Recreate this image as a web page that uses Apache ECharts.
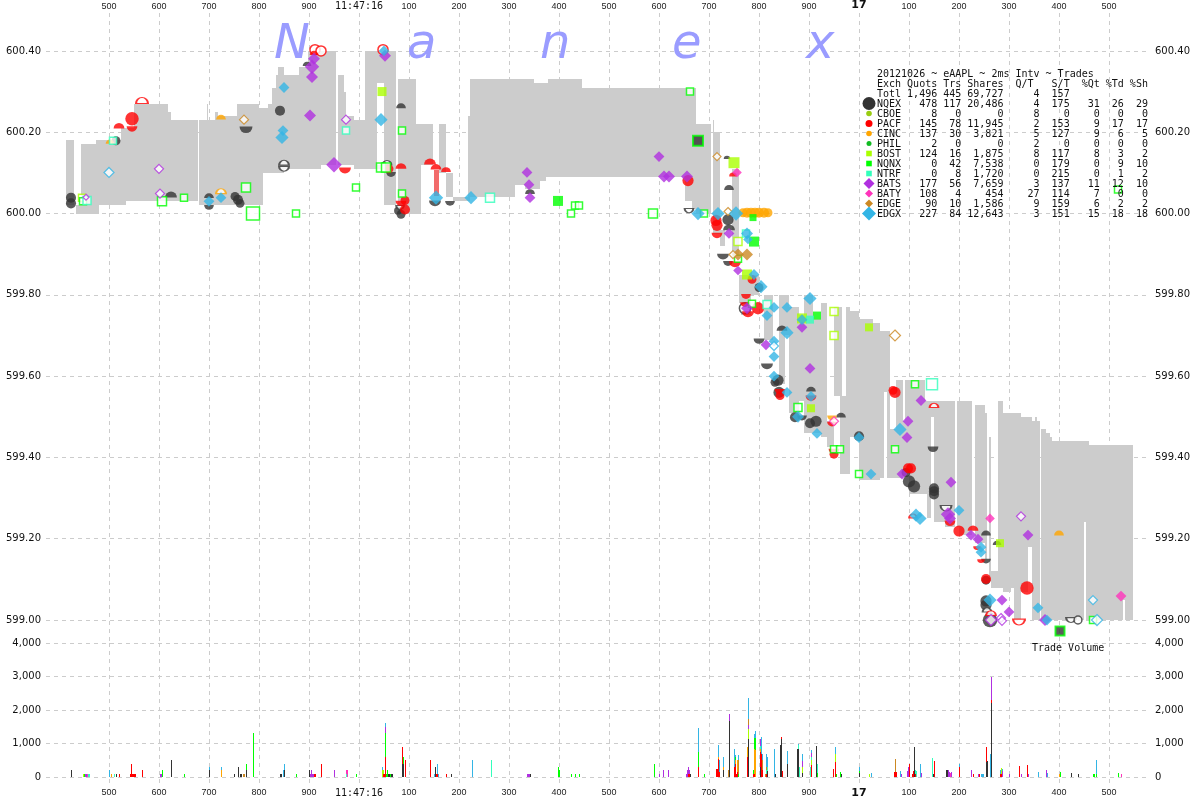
<!DOCTYPE html>
<html><head><meta charset="utf-8">
<script src="https://cdn.jsdelivr.net/npm/echarts@6/dist/echarts.min.js"></script>
<style>html,body{margin:0;padding:0;background:#fff}#c{width:1200px;height:800px}</style>
</head><body><div id="c"></div>
<script>
// time = ms after 11:47:15 ; 1000 -> 11:47:16 ; 2000 -> :17
const timeTicks=[500,600,700,800,900,1000,1100,1200,1300,1400,1500,1600,1700,1800,1900,2000,2100,2200,2300,2400,2500];
const priceTicks=[599.00,599.20,599.40,599.60,599.80,600.00,600.20,600.40];
const volumeTicks=[0,1000,2000,3000,4000];
const titleLetters=['N','a','n','e','x'];

// [start, end, bid, ask]
const spreadBand=[
[414,430,600.02,600.18],[434,444,600.00,600.02],[444,474,600.00,600.17],[474,480,600.00,600.18],[480,524,600.02,600.18],
[524,534,600.02,600.21],[534,550,600.03,600.21],[550,618,600.03,600.27],[618,624,600.03,600.25],[624,678,600.03,600.23],
[680,696,600.02,600.23],[696,698,600.02,600.27],[698,712,600.02,600.23],[712,718,600.02,600.25],[718,756,600.02,600.24],
[756,800,600.02,600.27],[800,808,600.02,600.26],[808,818,600.10,600.26],[818,826,600.10,600.27],[826,834,600.10,600.31],
[834,838,600.10,600.34],[838,850,600.10,600.36],[850,880,600.11,600.34],[880,898,600.11,600.36],[898,924,600.11,600.40],
[924,954,600.12,600.40],[958,970,600.12,600.34],[970,974,600.12,600.30],[974,990,600.12,600.24],[990,1012,600.11,600.23],
[1012,1036,600.11,600.40],[1036,1050,600.32,600.40],[1036,1050,600.11,600.12],[1050,1074,600.02,600.40],[1078,1114,600.00,600.33],
[1114,1124,600.00,600.22],[1124,1148,600.12,600.22],[1160,1174,600.10,600.22],[1174,1188,600.04,600.10],[1188,1218,600.03,600.04],
[1218,1222,600.03,600.24],[1222,1312,600.04,600.33],[1312,1332,600.07,600.33],[1332,1350,600.06,600.33],[1350,1362,600.06,600.32],
[1362,1374,600.08,600.32],[1374,1378,600.09,600.32],[1378,1446,600.09,600.33],[1446,1652,600.09,600.31],[1652,1666,600.03,600.31],
[1666,1674,600.01,600.31],[1674,1704,600.00,600.22],[1708,1722,599.95,600.20],[1708,1710,599.95,600.23],[1722,1732,599.92,599.96],
[1746,1760,599.89,600.11],[1760,1764,599.78,599.85],[1764,1784,599.75,599.85],[1784,1800,599.80,599.85],
[1810,1828,599.69,599.80],[1840,1852,599.58,599.80],[1852,1860,599.70,599.80],[1860,1880,599.51,599.77],[1880,1890,599.54,599.75],
[1890,1908,599.46,599.80],[1908,1924,599.46,599.74],[1924,1936,599.45,599.78],[1936,1950,599.425,599.49],[1950,1962,599.55,599.77],
[1962,1966,599.36,599.77],[1966,1974,599.36,599.55],[1974,1982,599.36,599.77],[1982,2000,599.45,599.76],[2000,2028,599.345,599.74],
[2028,2042,599.345,599.73],[2042,2050,599.35,599.71],[2050,2056,599.56,599.71],[2056,2062,599.35,599.71],[2062,2074,599.35,599.47],
[2074,2088,599.35,599.59],[2088,2092,599.365,599.49],[2092,2100,599.365,599.59],[2100,2132,599.31,599.59],[2132,2136,599.31,599.54],
[2136,2144,599.25,599.54],[2144,2150,599.50,599.54],[2150,2172,599.24,599.54],[2172,2192,599.23,599.54],[2196,2200,599.23,599.54],
[2200,2226,599.21,599.54],[2232,2252,599.19,599.53],[2252,2256,599.15,599.51],[2260,2264,599.10,599.45],[2264,2278,599.08,599.12],
[2278,2288,599.08,599.54],[2288,2304,599.07,599.51],[2304,2310,599.08,599.51],[2310,2324,599.00,599.51],[2324,2338,599.07,599.50],
[2338,2346,599.18,599.50],[2346,2352,599.00,599.49],[2352,2356,599.00,599.50],[2356,2362,599.00,599.49],[2364,2374,599.00,599.47],
[2374,2382,599.00,599.46],[2382,2386,599.00,599.45],[2386,2450,599.00,599.44],[2450,2454,599.24,599.44],[2454,2460,599.00,599.44],
[2460,2528,599.00,599.43],[2528,2532,599.05,599.43],[2532,2548,599.00,599.43]
];
const lockedBar=[[1150,1160,600.044,600.108]];

// marks: [time, price, size, kind]  c circle, u top half, d bottom half, s square, m diamond; capitals are hollow; k dark-filled square
const nqexMarks=[[424,600.039,9,'c'],[424,600.025,9,'c'],[514,600.179,8,'c'],[774,600.206,12,'d'],[624,600.047,11,'u'],[700,600.044,9,'u'],[700,600.015,9,'d'],[752,600.042,8,'c'],[758,600.034,9,'c'],[762,600.025,8,'c'],[842,600.253,9,'c'],[896,600.368,8,'u'],[1084,600.265,9,'u'],[1064,600.096,9,'d'],[1078,600.007,7,'c'],[1084,599.998,8,'c'],[1152,600.025,11,'d'],[1182,600.025,9,'d'],[1342,600.054,9,'u'],[1736,600.138,6,'u'],[1740,600.064,9,'u'],[1738,599.985,10,'c'],[1740,599.966,11,'u'],[1728,599.894,11,'d'],[1738,599.877,9,'d'],[1800,599.818,8,'c'],[1772,599.767,10,'O'],[1800,599.686,10,'d'],[1816,599.624,11,'d'],[1838,599.590,10,'c'],[1832,599.585,8,'c'],[1840,599.560,10,'c'],[1846,599.718,10,'u'],[1904,599.568,9,'u'],[1872,599.499,9,'c'],[1886,599.497,9,'d'],[1902,599.484,9,'c'],[1914,599.489,10,'c'],[1964,599.504,9,'u'],[2000,599.452,9,'c'],[2148,599.420,10,'d'],[2094,599.363,8,'c'],[2100,599.341,11,'c'],[2110,599.329,11,'c'],[2150,599.324,9,'c'],[2150,599.317,9,'c'],[2150,599.309,9,'c'],[2174,599.275,10,'D'],[2254,599.214,9,'u'],[2254,599.145,9,'d'],[2254,599.098,8,'c'],[2254,599.047,10,'c'],[2254,599.037,10,'c'],[2262,599.00,13,'c'],[2276,599.19,8,'u'],[2424,599.00,9,'D'],[2438,599.00,7,'O'],[2256,599.025,8,'U'],[850,600.125,9,'U'],[850,600.11,9,'D'],[1056,600.125,8,'U'],[1082,600.015,7,'D'],[1660,600.007,8,'D']];
const pacfMarks=[[520,600.216,10,'u'],[546,600.233,12,'c'],[546,600.208,10,'d'],[566,600.278,11,'U'],[912,600.403,9,'O'],[924,600.40,9,'O'],[910,600.395,8,'u'],[972,600.106,11,'d'],[1048,600.403,9,'O'],[1060,600.11,8,'c'],[1084,600.117,10,'u'],[1092,600.032,8,'c'],[1084,600.025,10,'d'],[1092,600.01,9,'c'],[1142,600.128,11,'u'],[1154,600.115,10,'u'],[1174,600.108,9,'u'],[1658,600.081,10,'c'],[1714,599.983,10,'c'],[1716,599.971,10,'c'],[1716,599.946,10,'d'],[1748,600.096,7,'u'],[1752,599.875,11,'d'],[1786,599.838,8,'c'],[1774,599.796,9,'d'],[1798,599.767,11,'c'],[1772,599.776,9,'d'],[1778,599.752,11,'d'],[1842,599.562,10,'d'],[1842,599.552,8,'c'],[1904,599.546,10,'d'],[1946,599.482,9,'d'],[1950,599.415,10,'d'],[1950,599.408,8,'c'],[2072,599.56,10,'c'],[2068,599.565,8,'c'],[2104,599.373,9,'c'],[2098,599.373,9,'c'],[2150,599.528,8,'U'],[2108,599.256,7,'U'],[2182,599.238,10,'d'],[2200,599.219,10,'c'],[2228,599.226,10,'u'],[2236,599.177,7,'d'],[2244,599.145,7,'d'],[2254,599.101,9,'c'],[2336,599.079,12,'c'],[2264,599.017,9,'U'],[2320,598.995,11,'D']];
const cincMarks=[[724,600.237,9,'u'],[502,600.177,8,'u'],[724,600.055,9,'U'],[1768,600.002,8,'c'],[1776,600.002,9,'c'],[1784,600.002,9,'c'],[1792,600.002,9,'c'],[1800,600.002,9,'c'],[1810,600.002,9,'c'],[1818,600.002,8,'c'],[1946,599.497,9,'d'],[2400,599.214,9,'u']];
const bostMarks=[[1046,600.30,9,'s'],[1750,600.125,11,'s'],[1758,599.931,8,'S'],[1776,599.85,10,'s'],[1886,599.742,10,'s'],[1950,599.759,8,'S'],[1950,599.70,8,'S'],[2020,599.72,8,'s'],[1904,599.521,8,'s'],[2282,599.189,8,'s'],[446,600.039,7,'S']];
const nqnxMarks=[[448,600.03,7,'S'],[774,600.064,9,'S'],[788,600.00,13,'S'],[606,600.03,9,'S'],[650,600.039,7,'S'],[874,600.00,7,'S'],[994,600.064,7,'S'],[1086,600.204,7,'S'],[1086,600.049,7,'S'],[1044,600.113,9,'S'],[1054,600.113,9,'S'],[1398,600.031,10,'s'],[1424,600.00,7,'S'],[1432,600.02,7,'S'],[1440,600.02,7,'S'],[1588,600.00,9,'S'],[1662,600.30,7,'S'],[1678,600.179,10,'k'],[1690,600.00,7,'S'],[1788,599.99,7,'s'],[1790,599.931,10,'s'],[1758,599.889,7,'S'],[1786,599.778,7,'S'],[1916,599.749,8,'s'],[1878,599.523,8,'S'],[1950,599.42,7,'S'],[1962,599.42,7,'S'],[2000,599.359,7,'S'],[2072,599.42,7,'S'],[2112,599.58,7,'S'],[2468,599.00,7,'S'],[2518,600.059,7,'S'],[2402,598.973,9,'k']];
const ntrfMarks=[[456,600.032,8,'S'],[508,600.179,7,'S'],[974,600.204,7,'S'],[1262,600.039,9,'S'],[1902,599.739,8,'s'],[1816,599.776,8,'S'],[1774,599.951,7,'S'],[2146,599.58,11,'S']];
const batsMarks=[[910,600.381,10,'m'],[906,600.361,12,'m'],[906,600.336,10,'m'],[902,600.241,10,'m'],[950,600.12,13,'m'],[1052,600.388,10,'m'],[600,600.11,9,'M'],[602,600.049,9,'M'],[974,600.231,9,'M'],[454,600.04,6,'M'],[1336,600.101,9,'m'],[1340,600.071,9,'m'],[1342,600.039,9,'m'],[1600,600.14,9,'m'],[1610,600.091,10,'m'],[1620,600.091,10,'m'],[1656,600.091,10,'m'],[1740,599.951,9,'m'],[1758,599.86,8,'m'],[1776,599.767,10,'m'],[1814,599.677,9,'m'],[1886,599.72,9,'m'],[1902,599.619,9,'m'],[2124,599.54,9,'m'],[2098,599.489,9,'m'],[2096,599.449,9,'m'],[2086,599.359,9,'m'],[2178,599.26,12,'m'],[2182,599.25,10,'m'],[2184,599.339,9,'m'],[2224,599.209,9,'m'],[2238,599.199,9,'m'],[2338,599.209,9,'m'],[2286,599.049,9,'m'],[2300,599.02,9,'m'],[2324,599.255,9,'M'],[2284,599.005,9,'M'],[2286,598.998,9,'M'],[2264,599.00,11,'M'],[2372,599.00,10,'m']];
const batyMarks=[[1756,600.101,8,'m'],[1950,599.489,9,'M'],[2262,599.25,8,'m'],[2524,599.059,9,'m']];
const edgeMarks=[[770,600.231,9,'M'],[1716,600.14,8,'M'],[1738,600.005,8,'M'],[1758,599.899,10,'m'],[1776,599.899,10,'m'],[1748,599.899,8,'M'],[2072,599.70,11,'M']];
const edgxMarks=[[500,600.101,10,'M'],[850,600.31,9,'m'],[848,600.204,9,'m'],[846,600.187,11,'m'],[700,600.03,9,'m'],[724,600.039,9,'m'],[1044,600.231,11,'m'],[1050,600.40,9,'m'],[1154,600.039,12,'m'],[1224,600.039,11,'m'],[1678,600.00,11,'m'],[1718,600.00,11,'m'],[1754,600.00,12,'m'],[1776,599.951,10,'m'],[1778,599.936,8,'m'],[1790,599.85,9,'m'],[1804,599.82,11,'m'],[1902,599.791,11,'m'],[1816,599.749,9,'m'],[1830,599.769,9,'m'],[1856,599.769,9,'m'],[1886,599.739,9,'m'],[1856,599.707,11,'m'],[1830,599.686,9,'m'],[1830,599.674,9,'M'],[1830,599.648,9,'m'],[1830,599.60,9,'m'],[1856,599.56,9,'m'],[1904,599.55,9,'m'],[1878,599.50,10,'m'],[1916,599.459,9,'m'],[2000,599.449,9,'m'],[2024,599.359,9,'m'],[2082,599.469,11,'m'],[2114,599.258,11,'m'],[2122,599.25,11,'m'],[2200,599.27,9,'m'],[2476,599.00,11,'M'],[2468,599.049,9,'M'],[2244,599.179,9,'m'],[2244,599.167,9,'m'],[2262,599.049,11,'m'],[2358,599.03,9,'m'],[2376,599.00,9,'m']];

// trade volume per 2 ms bucket: [time, shares]
const nqexVol=[[424,200],[514,100],[624,500],[700,200],[750,100],[758,300],[762,100],[764,100],[774,200],[842,100],[844,100],[850,200],[900,200],[1058,100],[1060,100],[1064,100],[1066,100],[1086,400],[1088,400],[1152,300],[1184,100],[1342,100],[1662,100],[1728,200],[1740,1680],[1778,1120],[1802,300],[1816,180],[1832,100],[1842,950],[1844,1130],[1856,400],[1876,850],[1878,850],[1886,120],[1914,920],[1964,100],[2000,120],[2110,900],[2148,100],[2174,200],[2176,200],[2254,450],[2256,480],[2264,2200],[2424,130],[2438,100]];
const pacfVol=[[520,100],[542,100],[544,400],[546,100],[548,100],[550,100],[552,100],[566,200],[910,100],[912,100],[924,400],[1048,100],[1050,100],[1052,600],[1086,500],[1092,500],[1142,500],[1154,100],[1156,100],[1174,100],[1658,100],[1660,100],[1678,300],[1714,250],[1716,250],[1718,550],[1720,150],[1750,300],[1752,400],[1754,100],[1756,150],[1776,600],[1788,100],[1790,100],[1802,450],[1804,700],[1806,200],[1814,100],[1844,70],[1846,180],[1904,350],[1948,230],[1952,450],[2070,150],[2072,150],[2074,150],[2100,400],[2106,100],[2108,180],[2112,100],[2150,470],[2200,300],[2228,100],[2240,100],[2254,450],[2264,100],[2282,100],[2284,100],[2320,340],[2336,350]];
const cincVol=[[504,100],[724,200],[1718,50],[1728,100],[1752,100],[1756,350],[1776,300],[1790,750],[1792,800],[1802,100],[2400,100]];
const bostVol=[[448,100],[1046,200],[1048,100],[1778,320],[1886,180],[1904,150],[1952,250],[2020,100],[2284,160]];
const nqnxVol=[[450,100],[606,200],[650,100],[774,200],[788,1300],[874,100],[994,100],[1052,700],[1054,100],[1056,200],[1062,100],[1088,200],[1398,300],[1400,200],[1424,100],[1432,100],[1440,100],[1590,400],[1678,450],[1690,100],[1752,100],[1758,100],[1788,100],[1790,300],[1792,350],[1916,120],[1954,100],[1962,150],[2000,50],[2402,150],[2468,100],[2470,100],[2474,100],[2518,120]];
const ntrfVol=[[458,100],[460,100],[510,100],[974,100],[1264,500],[1802,80],[1814,100],[1816,120],[1878,100],[1880,300],[1902,300],[1904,100],[1916,280],[2112,100],[2114,180],[2146,580]];
const batsVol=[[452,100],[454,100],[602,100],[604,100],[902,100],[904,200],[906,100],[908,100],[950,200],[1052,200],[1336,100],[1338,100],[1340,100],[1600,100],[1608,200],[1618,200],[1654,100],[1656,200],[1658,200],[1660,100],[1740,200],[1778,100],[1802,200],[1886,170],[1904,120],[2084,100],[2096,180],[2098,300],[2124,120],[2178,200],[2180,150],[2184,150],[2224,200],[2238,100],[2264,680],[2286,180],[2300,100],[2324,100],[2338,100],[2374,200]];
const batyVol=[[456,100],[974,100],[976,200],[2182,120],[2524,100]];
const edgeVol=[[768,100],[770,100],[1738,200],[1758,400],[1778,200],[1806,300],[1812,100],[1814,100],[2072,380]];
const edgxVol=[[500,200],[700,100],[724,100],[848,200],[850,200],[1046,100],[1052,100],[1150,100],[1156,300],[1158,100],[1226,500],[1678,700],[1718,350],[1720,350],[1728,300],[1750,550],[1752,50],[1758,150],[1778,620],[1790,130],[1792,210],[1804,500],[1806,200],[1814,400],[1816,300],[1830,830],[1856,370],[1878,50],[1886,220],[1904,80],[1952,200],[2000,130],[2024,120],[2082,180],[2122,380],[2200,100],[2244,100],[2246,100],[2248,100],[2262,700],[2282,100],[2286,70],[2358,160],[2376,120],[2474,420]];

// legend table
const legendNames=['Totl','NQEX','CBOE','PACF','CINC','PHIL','BOST','NQNX','NTRF','BATS','BATY','EDGE','EDGX'];
const legendQuotes=['1,496','478','8','145','137','2','124','0','0','177','108','90','227'];
const legendTrades=['445','117','0','78','30','0','16','42','8','56','4','10','84'];
const legendShares=['69,727','20,486','0','11,945','3,821','0','1,875','7,538','1,720','7,659','454','1,586','12,643'];
const legendQT=['4','4','8','2','5','2','8','0','0','3','27','9','3'];
const legendST=['157','175','0','153','127','0','117','179','215','137','114','159','151'];
const legendPctQ=['','31','0','9','9','0','8','0','0','11','7','6','15'];
const legendPctT=['','26','0','17','6','0','3','9','1','12','0','2','18'];
const legendPctS=['','29','0','17','5','0','2','10','2','10','0','2','18'];

const COL={NQEX:'#333333',CBOE:'#99cc11',PACF:'#ff0000',CINC:'#ffa500',PHIL:'#11bb22',BOST:'#aaff00',NQNX:'#00ff00',NTRF:'#33ffbb',BATS:'#b030e0',BATY:'#ff33bb',EDGE:'#cc8822',EDGX:'#33b5e5'};
const UP='path://M0 10A10 10 0 0 1 20 10Z', DOWN='path://M0 0A10 10 0 0 0 20 0Z';
const shape={c:'circle',o:'circle',u:UP,d:DOWN,s:'rect',m:'diamond',k:'rect'};

function markData(rows,color){
  return rows.map(r=>{
    const k=r[3], low=k.toLowerCase(), half=low==='u'||low==='d', hollow=k!==low;
    const size=k==='m'?r[2]*1.2:low==='c'||low==='o'?r[2]*1.12:half?r[2]*1.08:r[2];
    let st={color:color};
    if(hollow) st={color:'#ffffff',borderColor:color,borderWidth:low==='m'?1.2:1.5};
    if(k==='k') st={color:COL.NQEX,borderColor:color,borderWidth:2};
    return {value:[r[0],r[1]],symbol:shape[low],symbolSize:half?[size,size/2]:size,itemStyle:st};
  });
}
const markSeries=[['NQEX',nqexMarks],['PACF',pacfMarks],['CINC',cincMarks],['BOST',bostMarks],['NQNX',nqnxMarks],['NTRF',ntrfMarks],['BATS',batsMarks],['BATY',batyMarks],['EDGE',edgeMarks],['EDGX',edgxMarks]]
 .map(([n,rows])=>({type:'scatter',name:n,xAxisIndex:0,yAxisIndex:0,data:markData(rows,COL[n]),z:5,silent:true,clip:false}));

// stack each 2 ms bucket in exchange order: [time, base, top, exchange]
const volSets=[['NQEX',nqexVol],['PACF',pacfVol],['CINC',cincVol],['BOST',bostVol],['NQNX',nqnxVol],['NTRF',ntrfVol],['BATS',batsVol],['BATY',batyVol],['EDGE',edgeVol],['EDGX',edgxVol]];
const running=new Map(), volRows=[];
volSets.forEach(([n,rows],ex)=>rows.forEach(([t,v])=>{
  const b=running.get(t)||0; running.set(t,b+v); volRows.push([t,b,b+v,ex]);
}));
const volSeries={type:'custom',xAxisIndex:1,yAxisIndex:2,silent:true,z:4,data:volRows,encode:{x:0,y:[1,2]},
  renderItem(p,api){
    const a=api.coord([api.value(0),api.value(2)]),b=api.coord([api.value(0),api.value(1)]);
    const top=Math.round(a[1]),bot=Math.round(b[1]);
    return {type:'rect',shape:{x:Math.round(a[0]),y:top,width:1,height:Math.max(bot-top,1)},style:{fill:COL[volSets[api.value(3)][0]]}};
  }};
function rectSeries(rows,color,z){
  return {type:'custom',xAxisIndex:0,yAxisIndex:0,silent:true,z:z,data:rows,encode:{x:[0,1],y:[2,3]},
    renderItem(p,api){
      const a=api.coord([api.value(0),api.value(3)]),b=api.coord([api.value(1),api.value(2)]);
      return {type:'rect',shape:{x:Math.round(a[0]),y:Math.round(a[1]),width:Math.round(b[0])-Math.round(a[0]),height:Math.round(b[1])-Math.round(a[1])},style:{fill:color}};
    }};
}
const gridStyle={show:true,lineStyle:{color:'#cccccc',type:[4,4],width:1}};
const xLabel={customValues:timeTicks,show:true,color:'#222',margin:2,fontFamily:'Liberation Sans',fontSize:9,hideOverlap:false,
  formatter:v=>v===1000?'{c|11:47:16}':v===2000?'{b|17}':String(v%1000),
  rich:{c:{fontFamily:'DejaVu Sans Mono',fontSize:10,color:'#111'},b:{fontFamily:'DejaVu Sans',fontWeight:'bold',fontSize:11,color:'#111'}}};
const xCommon={type:'value',min:374,max:2582,axisLine:{show:false},axisTick:{show:false,customValues:timeTicks},splitLine:gridStyle};
const pLabel={customValues:priceTicks,margin:5,color:'#111',fontFamily:'DejaVu Sans',fontSize:10,formatter:v=>v.toFixed(2)};
const vLabel={customValues:volumeTicks,margin:5,color:'#111',fontFamily:'DejaVu Sans',fontSize:10,formatter:v=>v.toLocaleString('en-US')};
const pTick={show:false,customValues:priceTicks}, vTick={show:false,customValues:volumeTicks};
const yBase={type:'value',axisLine:{show:false}};

const graphics=[];
const mono='10px "DejaVu Sans Mono"';
function txt(x,y,s,font,fill,z){graphics.push({type:'text',x:x,y:y,z:z||20,silent:true,style:{text:s,font:font,fill:fill,verticalAlign:'middle',align:'left'}});}
const titleX=[274,407,540,672,806];
titleLetters.forEach((l,i)=>graphics.push({type:'text',x:titleX[i],y:70,z:1,silent:true,style:{text:l,font:'italic 48px "DejaVu Sans"',fill:'#9a9cff',verticalAlign:'bottom',align:'left'}}));
txt(877,74,'20121026 ~ eAAPL ~ 2ms Intv ~ Trades',mono,'#111');
txt(877,84,'Exch Quots Trs Shares  Q/T   S/T  %Qt %Td %Sh',mono,'#111');
legendNames.forEach((n,i)=>{
  const s=n.padEnd(4)+legendQuotes[i].padStart(6)+legendTrades[i].padStart(4)+legendShares[i].padStart(7)+legendQT[i].padStart(6)+legendST[i].padStart(5)+legendPctQ[i].padStart(5)+legendPctT[i].padStart(4)+legendPctS[i].padStart(4);
  txt(877,94+10*i,s,mono,'#111');
});
function dia(cy,r,c){graphics.push({type:'polygon',z:21,silent:true,shape:{points:[[869-r,cy],[869,cy-r],[869+r,cy],[869,cy+r]]},style:{fill:c}});}
function cir(cy,r,c){graphics.push({type:'circle',z:21,silent:true,shape:{cx:869,cy:cy,r:r},style:{fill:c}});}
function sq(cy,r,c){graphics.push({type:'rect',z:21,silent:true,shape:{x:869-r,y:cy-r,width:2*r,height:2*r},style:{fill:c}});}
cir(103.5,6.5,COL.NQEX);cir(113.5,2.8,COL.CBOE);cir(123.5,3.5,COL.PACF);cir(133.5,2.8,COL.CINC);cir(143.5,2.5,COL.PHIL);
sq(153.5,2.8,COL.BOST);sq(163.5,2.8,COL.NQNX);sq(173.5,2.8,COL.NTRF);
dia(183.5,5.5,COL.BATS);dia(193.5,4,COL.BATY);dia(203.5,4,COL.EDGE);dia(213.5,7,COL.EDGX);
txt(1032,648,'Trade Volume',mono,'#111');

const chart=echarts.init(document.getElementById('c'),null,{renderer:'canvas'});
chart.setOption({
  animation:false,backgroundColor:'#ffffff',tooltip:{show:false},legend:{show:false},
  grid:[{left:46,width:1104,top:12,height:631},{left:46,width:1104,top:643,height:140}],
  xAxis:[
    Object.assign({},xCommon,{gridIndex:0,position:'top',axisLabel:xLabel}),
    Object.assign({},xCommon,{gridIndex:1,position:'bottom',axisLabel:Object.assign({},xLabel,{margin:5})})
  ],
  yAxis:[
    Object.assign({},yBase,{gridIndex:0,position:'left',min:598.9435,max:600.4933,axisTick:pTick,axisLabel:pLabel,splitLine:gridStyle}),
    Object.assign({},yBase,{gridIndex:0,position:'right',min:598.9435,max:600.4933,axisTick:pTick,axisLabel:pLabel,splitLine:{show:false}}),
    Object.assign({},yBase,{gridIndex:1,position:'left',min:-179,max:4000,axisTick:vTick,axisLabel:vLabel,splitLine:gridStyle}),
    Object.assign({},yBase,{gridIndex:1,position:'right',min:-179,max:4000,axisTick:vTick,axisLabel:vLabel,splitLine:{show:false}})
  ],
  graphic:{elements:graphics},
  series:[rectSeries(spreadBand,'#cccccc',2),rectSeries(lockedBar,'#f26b6b',3),...markSeries,volSeries]
});
</script></body></html>
